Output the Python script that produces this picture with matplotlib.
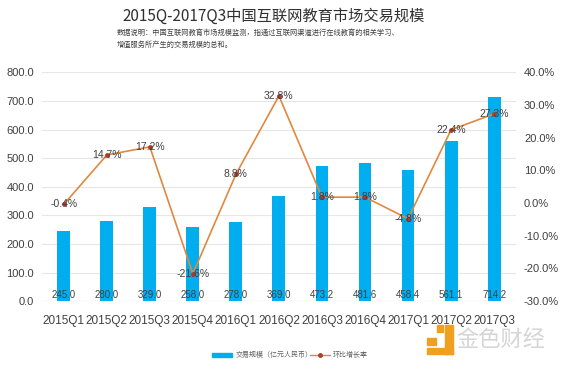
import matplotlib
matplotlib.use("Agg")
import matplotlib.pyplot as plt
from matplotlib.patches import Rectangle

plt.rcParams['font.family'] = ['Noto Sans CJK SC', 'DejaVu Sans']

quarters = ["2015Q1", "2015Q2", "2015Q3", "2015Q4", "2016Q1", "2016Q2",
            "2016Q3", "2016Q4", "2017Q1", "2017Q2", "2017Q3"]
volume = [245.0, 280.0, 329.0, 258.0, 278.0, 369.0, 473.2, 481.6, 458.4, 561.1, 714.2]
growth = [-0.4, 14.7, 17.2, -21.6, 8.8, 32.8, 1.8, 1.8, -4.8, 22.4, 27.3]
left_ticks = [0, 100, 200, 300, 400, 500, 600, 700, 800]
right_ticks = [-30, -20, -10, 0, 10, 20, 30, 40]

title = "2015Q-2017Q3中国互联网教育市场交易规模"
note = "数据说明：中国互联网教育市场规模监测，指通过互联网渠道进行在线教育的相关学习、\n增值服务所产生的交易规模的总和。"
legend_bar = "交易规模（亿元人民币）"
legend_line = "环比增长率"

bar_color = "#00AEEF"
line_color = "#E0893E"
num_font = ['Liberation Sans', 'Noto Sans CJK SC']

fig = plt.figure(figsize=(5.71, 3.69), dpi=100)
ax = fig.add_axes([0.074, 0.184, 0.829, 0.62])
x = list(range(len(quarters)))
ax.bar(x, volume, width=0.3, color=bar_color, zorder=2)
ax.set_ylim(0, 800)
ax.set_xlim(-0.5, len(quarters) - 0.5)
ax.set_yticks(left_ticks)
ax.set_yticklabels([f"{v:.1f}" for v in left_ticks], fontsize=8, color="#404040", family=num_font)
ax.set_xticks(x)
ax.set_xticklabels(quarters, fontsize=8.5, color="#404040", family=num_font)
ax.tick_params(axis='y', length=0, pad=6)
ax.tick_params(axis='x', length=0, pad=10)
ax.grid(axis='y', color="#E6E6E6", linewidth=0.8, zorder=0)
for s in ax.spines.values():
    s.set_visible(False)
ax.axhline(0, color="#D9D9D9", linewidth=0.8, zorder=1)
for xi, v in zip(x, volume):
    ax.text(xi, 22, f"{v:.1f}", ha='center', va='center', fontsize=7, color="#404040",
            zorder=4, family=num_font)

ax2 = ax.twinx()
ax2.plot(x, growth, color=line_color, linewidth=1.2, marker='o', markersize=2.5,
         markerfacecolor="#B03A2E", markeredgecolor="#B03A2E", zorder=3)
ax2.set_ylim(-30, 40)
ax2.set_yticks(right_ticks)
ax2.set_yticklabels([f"{v:.1f}%" for v in right_ticks], fontsize=8, color="#404040", family=num_font)
ax2.tick_params(length=0, pad=6)
for s in ax2.spines.values():
    s.set_visible(False)
for xi, g in zip(x, growth):
    ax2.text(xi, g, f"{g:.1f}%", ha='center', va='center', fontsize=7.5, color="#404040",
             zorder=5, family=num_font)

fig.text(0.48, 0.955, title, ha='center', va='center', fontsize=11, color="#303030")
fig.text(0.205, 0.895, note, ha='left', va='center', fontsize=5.2, color="#404040", linespacing=1.6)

# legend
fig.patches.append(Rectangle((0.372, 0.033), 0.035, 0.01, transform=fig.transFigure,
                             color=bar_color, figure=fig))
fig.text(0.412, 0.038, legend_bar, ha='left', va='center', fontsize=5, color="#606060")
fig.lines.append(plt.Line2D([0.543, 0.578], [0.038, 0.038], transform=fig.transFigure,
                            color=line_color, linewidth=1, figure=fig))
fig.lines.append(plt.Line2D([0.56], [0.038], transform=fig.transFigure, marker='o', markersize=2.5,
                            color="#B03A2E", figure=fig))
fig.text(0.583, 0.038, legend_line, ha='left', va='center', fontsize=5, color="#606060")

# watermark
wm = "#F0A020"
fig.patches.append(Rectangle((0.748, 0.04), 0.045, 0.018, transform=fig.transFigure, color=wm, figure=fig))
fig.patches.append(Rectangle((0.78, 0.04), 0.013, 0.08, transform=fig.transFigure, color=wm, figure=fig))
fig.patches.append(Rectangle((0.748, 0.065), 0.015, 0.02, transform=fig.transFigure, color=wm, figure=fig))
fig.patches.append(Rectangle((0.765, 0.1), 0.01, 0.02, transform=fig.transFigure, color=wm, figure=fig))
fig.text(0.8, 0.08, "金色财经", ha='left', va='center', fontsize=16, color="#D5D5D5")

fig.savefig("out.png", dpi=100)
